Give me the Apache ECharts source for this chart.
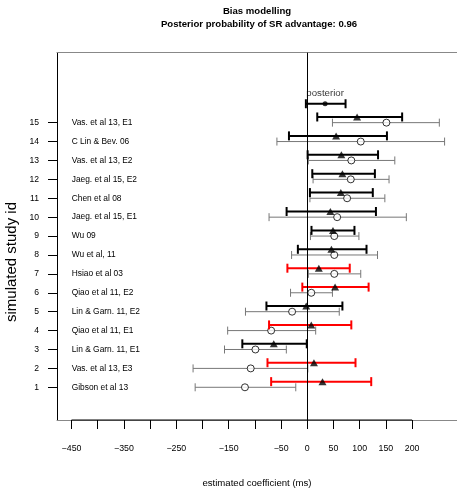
<!DOCTYPE html>
<html><head><meta charset="utf-8">
<script src="https://cdn.jsdelivr.net/npm/echarts@6/dist/echarts.min.js"></script>
<style>html,body{margin:0;padding:0;background:#fff}#c{width:457px;height:488px}</style>
</head><body><div id="c"></div>
<script>
// ---- data ----
const studyIds = [1,2,3,4,5,6,7,8,9,10,11,12,13,14,15];
const studyNames = ['Gibson et al 13','Vas. et al 13, E3','Lin & Garn. 11, E1','Qiao et al 11, E1','Lin & Garn. 11, E2','Qiao et al 11, E2','Hsiao et al 03','Wu et al, 11','Wu 09','Jaeg. et al 15, E1','Chen et al 08','Jaeg. et al 15, E2','Vas. et al 13, E2','C Lin & Bev. 06','Vas. et al 13, E1'];
// bias-model estimates (filled triangles)
const biasEst = [29, 12.7, -64, 7.6, -2, 53, 22, 46, 49, 44, 64, 67, 65, 55, 95];
const biasLo  = [-69, -76, -124, -73, -78, -9.5, -38, -18, 8, -39.5, 5, 9.5, 0.6, -35, 19];
const biasHi  = [122, 92, -1, 84, 67, 117, 81, 113, 90, 131, 125, 129, 135, 152, 181];
// original estimates (open circles)
const rawEst = [-119, -108, -99, -69, -29, 7.6, 51.5, 51.5, 51.5, 57, 76, 83, 84, 102, 151];
const rawLo  = [-214, -218, -158, -152, -118, -32, 2, -30, 6, -73, 5, 11, 2, -58, 48];
const rawHi  = [-22, 1, -40, 16, 61, 48, 102, 134, 98.5, 189, 148, 156, 167, 262, 252];
// studies highlighted in red
const flaggedIds = [1, 2, 4, 6, 7];
// posterior
const posteriorRow = [16];
const posteriorEst = [34];
const posteriorLo = [-2.7];
const posteriorHi = [73];
// axis ticks
const xTickValues = [-450,-400,-350,-300,-250,-200,-150,-100,-50,0,50,100,150,200];
const xLabelValues = [-450,-350,-250,-150,-50,0,50,100,150,200];

// ---- layout ----
const FONT = "'Liberation Sans', Arial, sans-serif";
const X_MIN = -477.7, X_MAX = 285.7, Y_MIN = -0.73, Y_MAX = 18.70;
const BIAS_OFFSET = 0.3;

const biasBars = studyIds.map((id, i) => [biasLo[i], biasHi[i], id + BIAS_OFFSET, flaggedIds.includes(id) ? 1 : 0]);
const rawBars = studyIds.map((id, i) => [rawLo[i], rawHi[i], id, 0]);
const postBars = posteriorRow.map((r, i) => [posteriorLo[i], posteriorHi[i], r, 0]);

function errBar(colorFn, width, cap) {
  return function (params, api) {
    const a = api.coord([api.value(0), api.value(2)]);
    const b = api.coord([api.value(1), api.value(2)]);
    const y = a[1];
    const st = { stroke: colorFn(api.value(3)), lineWidth: width };
    return { type: 'group', children: [
      { type: 'line', shape: { x1: a[0], y1: y, x2: b[0], y2: y }, style: st },
      { type: 'line', shape: { x1: a[0], y1: y - cap / 2, x2: a[0], y2: y + cap / 2 }, style: st },
      { type: 'line', shape: { x1: b[0], y1: y - cap / 2, x2: b[0], y2: y + cap / 2 }, style: st }
    ]};
  };
}

const chart = echarts.init(document.getElementById('c'));
chart.setOption({
  animation: false,
  backgroundColor: '#fff',
  textStyle: { fontFamily: FONT },
  grid: { left: 57, top: 52.7, right: 0, bottom: 68, show: false },
  xAxis: [{
    type: 'value', min: X_MIN, max: X_MAX, position: 'bottom',
    axisLine: { show: true, onZero: false, lineStyle: { color: '#888', width: 1 } },
    splitLine: { show: false },
    axisTick: { show: true, customValues: xTickValues, length: 9, lineStyle: { color: '#000', width: 1 } },
    axisLabel: { customValues: xLabelValues, margin: 24, fontSize: 8.8, color: '#000', fontFamily: FONT,
      formatter: v => String(v).replace('-', '\u2212') }
  }, {
    type: 'value', min: X_MIN, max: X_MAX, position: 'top',
    axisLine: { show: true, onZero: false, lineStyle: { color: '#888', width: 1.2 } },
    axisTick: { show: false }, axisLabel: { show: false }, splitLine: { show: false }
  }],
  yAxis: [{
    type: 'value', min: Y_MIN, max: Y_MAX, position: 'left', offset: 0,
    axisLine: { show: true, onZero: false, lineStyle: { color: '#000', width: 1 } },
    splitLine: { show: false },
    axisTick: { show: true, customValues: studyIds, length: 9, lineStyle: { color: '#000' } },
    axisLabel: { customValues: studyIds, margin: 18, fontSize: 8.6, color: '#000', fontFamily: FONT }
  }, {
    type: 'value', min: Y_MIN, max: Y_MAX, position: 'left', offset: 0,
    axisLine: { show: false, onZero: false }, axisTick: { show: false }, splitLine: { show: false },
    axisLabel: { inside: true, customValues: studyIds, margin: 14.7, fontSize: 8.4, color: '#000', fontFamily: FONT,
      formatter: v => studyNames[Math.round(v) - 1] || '' }
  }],
  graphic: [
    { type: 'text', x: 257, y: 11, style: { text: 'Bias modelling', font: 'bold 9.6px ' + FONT, fill: '#000', textAlign: 'center', textVerticalAlign: 'middle' } },
    { type: 'text', x: 259, y: 24.5, style: { text: 'Posterior probability of SR advantage: 0.96', font: 'bold 9.6px ' + FONT, fill: '#000', textAlign: 'center', textVerticalAlign: 'middle' } },
    { type: 'text', x: 257, y: 483, style: { text: 'estimated coefficient (ms)', font: '9.6px ' + FONT, fill: '#000', textAlign: 'center', textVerticalAlign: 'middle' } },
    { type: 'text', x: 12, y: 262, rotation: Math.PI / 2, style: { text: 'simulated study id', font: '15px ' + FONT, fill: '#000', textAlign: 'center', textVerticalAlign: 'middle' } }
  ],
  series: [
    { type: 'line', xAxisIndex: 0, yAxisIndex: 0, data: [[xTickValues[0], Y_MIN], [xTickValues[xTickValues.length - 1], Y_MIN]],
      symbol: 'none', clip: false, silent: true, lineStyle: { color: '#000', width: 1 }, z: 5,
      markLine: { silent: true, symbol: 'none', label: { show: false }, lineStyle: { color: '#000', width: 1, type: 'solid' }, data: [{ xAxis: 0 }] } },
    { type: 'custom', xAxisIndex: 0, yAxisIndex: 0, data: rawBars, renderItem: errBar(() => '#777', 1, 8), z: 2 },
    { type: 'scatter', xAxisIndex: 0, yAxisIndex: 0, data: studyIds.map((id, i) => [rawEst[i], id]), symbol: 'circle', symbolSize: 7,
      itemStyle: { color: '#fff', borderColor: '#000', borderWidth: 1 }, z: 3 },
    { type: 'custom', xAxisIndex: 0, yAxisIndex: 0, data: biasBars, renderItem: errBar(f => f ? '#ff0000' : '#000', 2, 9), z: 4 },
    { type: 'scatter', xAxisIndex: 0, yAxisIndex: 0, data: studyIds.map((id, i) => [biasEst[i], id + BIAS_OFFSET]), symbol: 'triangle', symbolSize: [8, 7],
      itemStyle: { color: '#000' }, z: 5 },
    { type: 'custom', xAxisIndex: 0, yAxisIndex: 0, data: postBars, renderItem: errBar(() => '#000', 2, 9), z: 4 },
    { type: 'scatter', xAxisIndex: 0, yAxisIndex: 0, data: posteriorRow.map((r, i) => [posteriorEst[i], r]), symbol: 'circle', symbolSize: 5,
      itemStyle: { color: '#000' }, z: 5,
      label: { show: true, position: 'top', distance: 3, formatter: 'posterior', fontSize: 9.7, color: '#000', fontFamily: FONT } }
  ]
});
</script></body></html>
